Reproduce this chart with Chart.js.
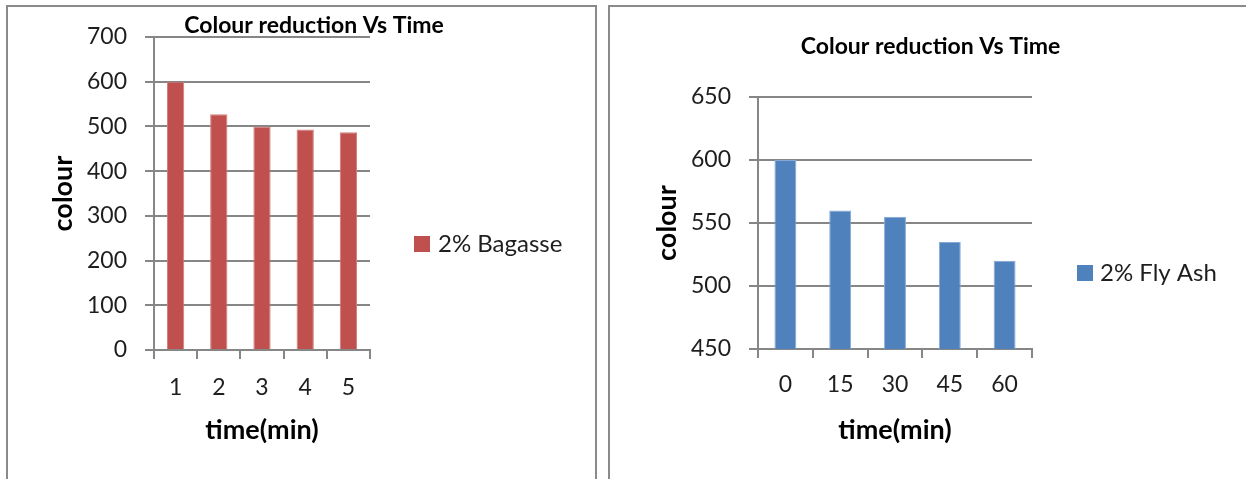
<!DOCTYPE html>
<html>
<head>
<meta charset="utf-8">
<title>Colour reduction Vs Time</title>
<script src="https://cdn.jsdelivr.net/npm/chart.js@4/dist/chart.umd.min.js"></script>
<style>
  html, body { margin: 0; padding: 0; background: #fff; width: 1246px; height: 479px; overflow: hidden; position: relative; }
  .frame { position: absolute; border: 2px solid #8a8a8a; box-sizing: border-box; }
  #frameA { left: 6px; top: 5px; width: 591px; height: 640px; }
  #frameB { left: 608px; top: 5px; width: 700px; height: 640px; }
  canvas { position: absolute; top: 0; }
  #chartA { left: 0; }
  #chartB { left: 609px; }
</style>
</head>
<body>
<div class="frame" id="frameA"></div>
<div class="frame" id="frameB"></div>
<canvas id="chartA" width="603" height="488"></canvas>
<canvas id="chartB" width="637" height="546"></canvas>
<script>
// ---- data ----
const chartTitle = 'Colour reduction Vs Time';
const xAxisTitle = 'time(min)';
const yAxisTitle = 'colour';

const bagasseTimes = ['1', '2', '3', '4', '5'];
const bagasseColour = [600, 527, 500, 493, 487];
const bagasseLabel = '2% Bagasse';
const bagasseRange = [0, 700, 100];      // min, max, step

const flyAshTimes = ['0', '15', '30', '45', '60'];
const flyAshColour = [600, 560, 555, 535, 520];
const flyAshLabel = '2% Fly Ash';
const flyAshRange = [450, 650, 50];      // min, max, step

// ---- styling ----
const FONT = 'Lato, "Open Sans", "DejaVu Sans", sans-serif';
const GRID = '#868686';
const TEXT = '#1e1e1e';
const TICK_SIZE = 23;
const LEGEND_SIZE = 24;
const AXIS_TITLE_SIZE = 27;
const TITLE_SIZE = 23;

Chart.defaults.font.family = FONT;
Chart.defaults.color = TEXT;

// single-entry legend drawn beside the plot: colour square + series name
const sideLegend = {
  id: 'sideLegend',
  afterDraw(chart, args, opts) {
    const ds = chart.data.datasets[0];
    const ctx = chart.ctx;
    ctx.save();
    ctx.fillStyle = ds.backgroundColor;
    ctx.fillRect(opts.x, opts.y - opts.box / 2, opts.box, opts.box);
    ctx.fillStyle = TEXT;
    ctx.font = LEGEND_SIZE + 'px ' + FONT;
    ctx.textAlign = 'left';
    ctx.textBaseline = 'middle';
    ctx.fillText(ds.label, opts.x + opts.box + opts.gap, opts.y);
    ctx.restore();
  }
};

// paddings that put the plot area, title and axis titles in place
function panelLayout(p) {
  const titleRight = 2 * p.titleX - p.padLeft;     // title box is centred on titleX
  return {
    padLeft: p.padLeft,
    padRight: p.width - titleRight,
    spacer: titleRight - p.plot.right,
    titleTop: p.titleY - TITLE_SIZE / 2,
    titleBottom: p.plot.top - (p.titleY + TITLE_SIZE / 2),
    yWidth: p.plot.left - p.padLeft,
    yTitlePad: p.yTitleX - p.padLeft - AXIS_TITLE_SIZE / 2,
    xHeight: p.height - p.plot.bottom,
    xTickPad: p.xTickY - p.plot.bottom - 9 - TICK_SIZE * 0.6,
    xTitleBottom: p.height - p.xTitleY - AXIS_TITLE_SIZE / 2,
    legend: p.legend
  };
}

function makeBarChart(canvasId, times, values, label, range, colours, box) {
  return new Chart(document.getElementById(canvasId), {
    type: 'bar',
    plugins: [sideLegend],
    data: {
      labels: times,
      datasets: [{
        label: label,
        data: values,
        backgroundColor: colours.fill,
        borderColor: colours.edge,
        borderWidth: 1,
        borderSkipped: 'start',
        categoryPercentage: 1,
        barPercentage: 0.4,
        yAxisID: 'y'
      }]
    },
    options: {
      responsive: false,
      animation: false,
      events: [],
      layout: { padding: { left: box.padLeft, top: 0, bottom: 0, right: box.padRight } },
      plugins: {
        tooltip: { enabled: false },
        legend: { display: false },
        sideLegend: box.legend,
        title: {
          display: true,
          text: chartTitle,
          align: 'center',
          color: '#000',
          font: { family: FONT, size: TITLE_SIZE, weight: 'bold', lineHeight: 1 },
          padding: { top: box.titleTop, bottom: box.titleBottom }
        }
      },
      scales: {
        x: {
          offset: true,
          grid: { offset: true, drawOnChartArea: false, drawTicks: true, tickLength: 9, color: GRID, lineWidth: 2 },
          border: { display: true, color: GRID, width: 2 },
          ticks: { padding: box.xTickPad, maxRotation: 0, color: TEXT, font: { size: TICK_SIZE } },
          title: {
            display: true, text: xAxisTitle, color: '#000',
            font: { family: FONT, size: AXIS_TITLE_SIZE, weight: 'bold', lineHeight: 1 },
            padding: { top: 0, bottom: box.xTitleBottom }
          },
          afterFit: s => { s.height = box.xHeight; }
        },
        y: {
          min: range[0],
          max: range[1],
          grid: { color: GRID, lineWidth: 2, tickLength: 9, drawTicks: true },
          border: { display: true, color: GRID, width: 2 },
          ticks: { stepSize: range[2], padding: 18, color: TEXT, font: { size: TICK_SIZE } },
          title: {
            display: true, text: yAxisTitle, color: '#000',
            font: { family: FONT, size: AXIS_TITLE_SIZE, weight: 'bold', lineHeight: 1 },
            padding: { top: box.yTitlePad, bottom: 0 }
          },
          afterFit: s => { s.width = box.yWidth; }
        },
        // empty right-hand band that holds the legend
        legendBand: {
          type: 'linear',
          position: 'right',
          grid: { display: false, drawTicks: false },
          border: { display: false },
          ticks: { display: false },
          afterFit: s => { s.width = box.spacer; }
        }
      }
    }
  });
}

// left panel: 2% Bagasse
makeBarChart('chartA', bagasseTimes, bagasseColour, bagasseLabel, bagasseRange,
  { fill: '#C0504D', edge: '#D07E7B' },
  panelLayout({
    width: 603, height: 488, padLeft: 30,
    plot: { left: 154, right: 370, top: 37, bottom: 350 },
    titleX: 314, titleY: 26, yTitleX: 63, xTickY: 388, xTitleY: 430,
    legend: { x: 414, y: 244, box: 16, gap: 8 }
  }));

// right panel: 2% Fly Ash
makeBarChart('chartB', flyAshTimes, flyAshColour, flyAshLabel, flyAshRange,
  { fill: '#4F81BD', edge: '#86A8D6' },
  panelLayout({
    width: 637, height: 546, padLeft: 10,
    plot: { left: 149, right: 423, top: 97, bottom: 349 },
    titleX: 321.5, titleY: 47, yTitleX: 58, xTickY: 385, xTitleY: 430,
    legend: { x: 468, y: 273, box: 16, gap: 7 }
  }));
</script>
</body>
</html>
